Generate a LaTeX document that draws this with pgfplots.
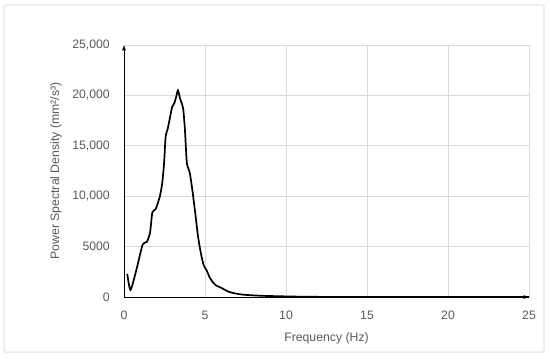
\documentclass[border=0pt]{standalone}
\usepackage{fontspec}
\setmainfont{Liberation Sans}
\usepackage{pgfplots}
\pgfplotsset{compat=1.18}
\definecolor{txtgrey}{HTML}{595959}
\definecolor{gridgrey}{HTML}{D9D9D9}
\definecolor{framegrey}{HTML}{EBEBEB}
\pgfplotstableread{
x y
0.2 2300
0.4 700
0.75 2600
1.15 5200
1.4 5450
1.6 6300
1.75 8400
1.95 8700
2.2 9900
2.35 11200
2.47 13200
2.57 15900
2.7 16700
2.85 17900
2.97 18850
3.1 19200
3.22 19850
3.33 20500
3.46 19700
3.65 18700
3.76 16600
3.88 13300
4.05 12400
4.22 10600
4.4 8300
4.57 6000
4.75 4300
4.92 3150
5.1 2650
5.27 2000
5.47 1500
5.68 1150
5.98 930
6.2 730
6.5 500
6.9 340
7.3 240
7.9 170
8.5 120
9.2 90
10 60
11 30
12 15
14 8
17 5
20 3
25 2
}\psd
\begin{document}
\begin{tikzpicture}[x=1bp,y=1bp]
\useasboundingbox (0,0) rectangle (550,359);
\draw[framegrey, line width=1.5bp, rounded corners=2bp] (4,7) rectangle (544,354);
\begin{axis}[
  at={(124bp,62bp)}, anchor=south west,
  scale only axis, width=405bp, height=252bp,
  xmin=0, xmax=25, ymin=0, ymax=25000,
  axis x line=bottom, axis y line=left,
  axis line style={black, line width=0.9bp, -latex},
  xtick={0,5,...,25}, ytick={0,5000,...,25000},
  yticklabels={0,5000,{10,000},{15,000},{20,000},{25,000}},
  scaled y ticks=false,
  major tick length=0pt,
  grid=major,
  major grid style={gridgrey, line width=0.75bp},
  every tick label/.append style={font=\fontsize{12.3}{14}\selectfont, text=txtgrey, inner sep=0pt},
  /pgf/number format/assume math mode=true,
  yticklabel style={anchor=east, xshift=-14bp},
  xticklabel style={anchor=north, yshift=-14bp},
  xlabel={Frequency (Hz)},
  ylabel={Power Spectral Density (mm²/s³)},
  label style={font=\fontsize{12.3}{14}\selectfont, text=txtgrey, inner sep=0pt},
  xlabel style={at={(axis description cs:0.5,-0.165)}, anchor=center},
  ylabel style={at={(axis description cs:-0.168,0.5)}, anchor=center},
  clip=false,
]
\addplot[black, line width=1.7bp, smooth, tension=0.4] table[x=x,y=y] {\psd};
\end{axis}
\end{tikzpicture}
\end{document}
